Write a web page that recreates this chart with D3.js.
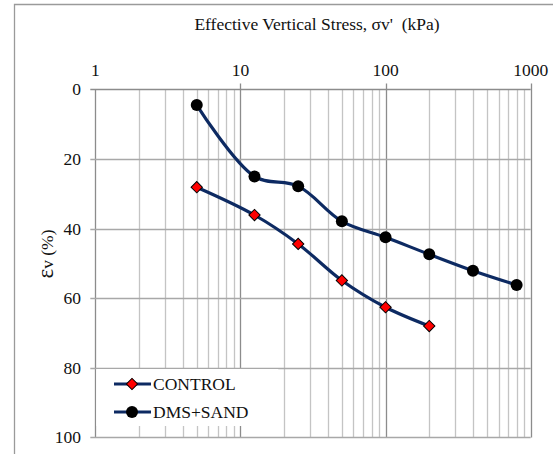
<!DOCTYPE html>
<html><head><meta charset="utf-8">
<script src="https://cdn.jsdelivr.net/npm/d3@7"></script>
<style>
body{margin:0;background:#fff;}
svg{display:block;}
svg text{font-family:"Liberation Serif","Times New Roman",serif;white-space:pre;}
</style></head>
<body>
<svg id="c" width="553" height="454"></svg>
<script>
const stress = [5, 12.5, 25, 50, 100, 200, 400, 800];
const controlStrain = [28.1, 36.1, 44.4, 54.9, 62.6, 68.0];
const dmsSandStrain = [4.5, 25.0, 27.8, 37.9, 42.5, 47.4, 52.1, 56.2];
const xTicks = [1, 10, 100, 1000];
const yTicks = [0, 20, 40, 60, 80, 100];
const seriesNames = ["CONTROL", "DMS+SAND"];

const svg = d3.select("#c");
const L = 95.3, R = 530.7, T = 89.4, B = 437.4;
const x = d3.scaleLog().domain([1, 1000]).range([L, R]);
const y = d3.scaleLinear().domain([0, 100]).range([T, B]);
const FS = 17.5;

// outer frame
svg.append("path").attr("d", `M14.5,460 V4.5 H560`).attr("fill", "none").attr("stroke", "#9a9a9a").attr("stroke-width", 1.3);

// minor vertical gridlines
const minors = [];
for (let d = 1; d < 1000; d *= 10) for (let k = 2; k <= 9; k++) minors.push(d * k);
svg.append("g").selectAll("line").data(minors).join("line")
  .attr("x1", d => Math.round(x(d)) + 0.5).attr("x2", d => Math.round(x(d)) + 0.5)
  .attr("y1", T).attr("y2", B).attr("stroke", "#c4c4c4").attr("stroke-width", 1.3);
// major vertical
svg.append("g").selectAll("line").data(xTicks).join("line")
  .attr("x1", d => Math.round(x(d)) + 0.5).attr("x2", d => Math.round(x(d)) + 0.5)
  .attr("y1", d => T - (d === 1 ? 0 : 6)).attr("y2", B).attr("stroke", "#8c8c8c").attr("stroke-width", 1.3);
// horizontal gridlines
svg.append("g").selectAll("line").data(yTicks).join("line")
  .attr("x1", L - 5).attr("x2", R)
  .attr("y1", d => Math.round(y(d)) + 0.5).attr("y2", d => Math.round(y(d)) + 0.5)
  .attr("stroke", d => d === 0 ? "#8c8c8c" : "#a8a8a8").attr("stroke-width", 1.3);

// axis labels
svg.append("g").selectAll("text").data(xTicks).join("text")
  .attr("x", d => x(d)).attr("y", 76).attr("text-anchor", "middle")
  .attr("font-size", FS).attr("fill", "#111").text(d => d);
svg.append("g").selectAll("text").data(yTicks).join("text")
  .attr("x", 81).attr("y", d => y(d) + 6).attr("text-anchor", "end")
  .attr("font-size", FS).attr("fill", "#111").text(d => d);

svg.append("text").attr("x", 317).attr("y", 30).attr("text-anchor", "middle")
  .attr("font-size", FS).attr("fill", "#111").text("Effective Vertical Stress, σv'  (kPa)");
svg.append("text").attr("transform", "translate(53,254) rotate(-90)").attr("text-anchor", "middle")
  .attr("font-size", FS).attr("fill", "#111")
  .html('<tspan font-size="23">ε</tspan>v (%)');

// lines
const navy = "#0d2a62";
const line = d3.line().x(d => x(d[0])).y(d => y(d[1])).curve(d3.curveCatmullRom.alpha(0.5));
const ctrl = controlStrain.map((v, i) => [stress[i], v]);
const dms = dmsSandStrain.map((v, i) => [stress[i], v]);
[ctrl, dms].forEach(data => {
  svg.append("path").datum(data).attr("d", line).attr("fill", "none")
    .attr("stroke", navy).attr("stroke-width", 3.2);
});
function drawDiamond(g, px, py) {
  g.append("path").attr("d", d3.symbol().type(d3.symbolSquare).size(64)())
    .attr("transform", `translate(${px},${py}) rotate(45)`)
    .attr("fill", "#ff0000").attr("stroke", "#000").attr("stroke-width", 1);
}
const gm = svg.append("g");
ctrl.forEach(d => drawDiamond(gm, x(d[0]), y(d[1])));
gm.selectAll("circle").data(dms).join("circle")
  .attr("cx", d => x(d[0])).attr("cy", d => y(d[1])).attr("r", 6).attr("fill", "#000");

// legend
svg.append("rect").attr("x", L + 1).attr("y", 369).attr("width", 182).attr("height", 57).attr("fill", "#fff");
const lg = svg.append("g");
[0, 1].forEach(i => {
  const ly = 384 + i * 28;
  lg.append("line").attr("x1", 114).attr("x2", 151).attr("y1", ly).attr("y2", ly)
    .attr("stroke", navy).attr("stroke-width", 3.2);
  if (i === 0) drawDiamond(lg, 132, ly);
  else lg.append("circle").attr("cx", 132).attr("cy", ly).attr("r", 6).attr("fill", "#000");
  lg.append("text").attr("x", 153).attr("y", ly + 6).attr("font-size", FS).attr("fill", "#111").text(seriesNames[i]);
});
</script>
</body></html>
